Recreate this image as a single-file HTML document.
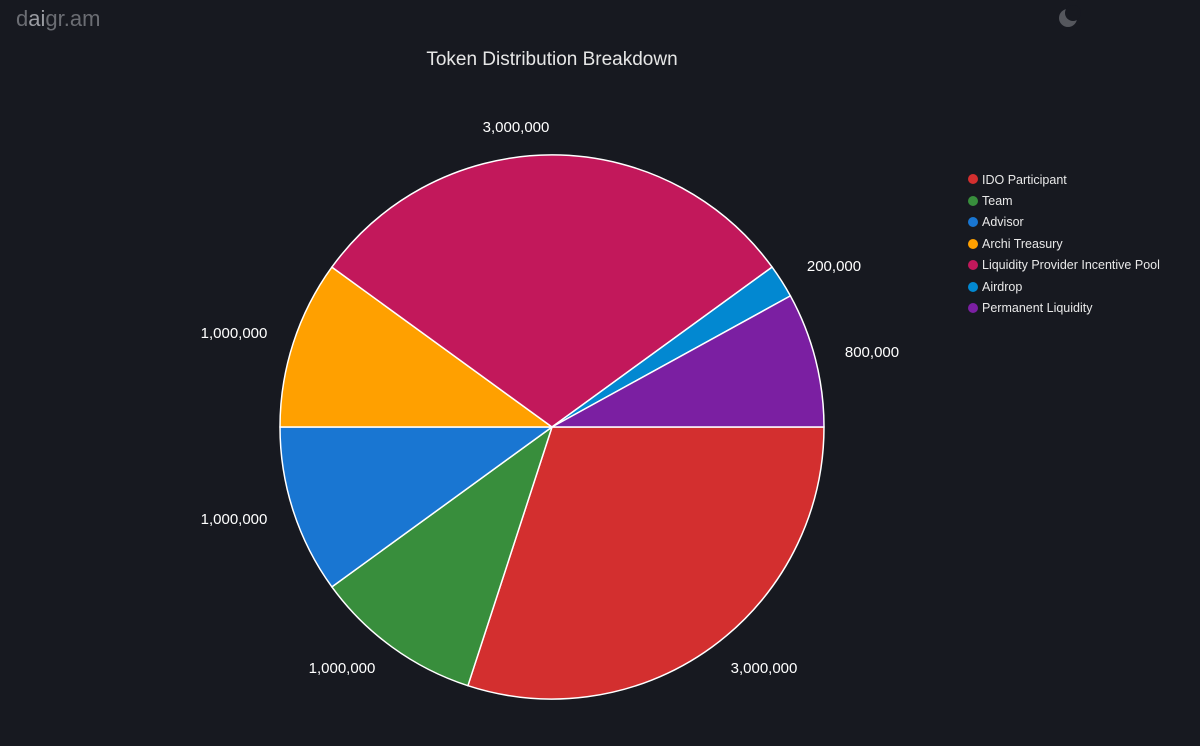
<!DOCTYPE html>
<html><head><meta charset="utf-8"><style>
html,body{margin:0;padding:0;background:#171920;width:1200px;height:746px;overflow:hidden;font-family:"Liberation Sans",sans-serif}
</style></head><body>
<svg width="1200" height="746" xmlns="http://www.w3.org/2000/svg">
<rect width="1200" height="746" fill="#171920"/>
<text x="16" y="26" font-size="22" fill="#6b6d73" font-family="Liberation Sans,sans-serif">d<tspan fill="#9a9ca2">ai</tspan>gr.am</text>
<circle cx="1068" cy="18" r="9" fill="#55575d"/>
<circle cx="1073" cy="13" r="8" fill="#171920"/>
<text x="552" y="65" text-anchor="middle" font-size="19" fill="#e6e6e6">Token Distribution Breakdown</text>
<g stroke="#ffffff" stroke-width="1.5" stroke-linejoin="round">
<path d="M552,427 L824,427 A272,272 0 0,1 467.9,685.7 Z" fill="#d32f2f"/>
<path d="M552,427 L467.9,685.7 A272,272 0 0,1 331.9,586.9 Z" fill="#388e3c"/>
<path d="M552,427 L331.9,586.9 A272,272 0 0,1 280,427 Z" fill="#1976d2"/>
<path d="M552,427 L280,427 A272,272 0 0,1 331.9,267.1 Z" fill="#ffa000"/>
<path d="M552,427 L331.9,267.1 A272,272 0 0,1 772.1,267.1 Z" fill="#c2185b"/>
<path d="M552,427 L772.1,267.1 A272,272 0 0,1 790.4,295.9 Z" fill="#0288d1"/>
<path d="M552,427 L790.4,295.9 A272,272 0 0,1 824,427 Z" fill="#7b1fa2"/>
</g>
<g font-size="15" fill="#ffffff" text-anchor="middle">
<text x="516" y="132">3,000,000</text>
<text x="834" y="271">200,000</text>
<text x="872" y="357">800,000</text>
<text x="234" y="338">1,000,000</text>
<text x="234" y="524">1,000,000</text>
<text x="342" y="673">1,000,000</text>
<text x="764" y="673">3,000,000</text>
</g>
<g font-size="12.5" fill="#e8e8e8">
<circle cx="973" cy="179" r="5" fill="#d32f2f"/><text x="982" y="184">IDO Participant</text>
<circle cx="973" cy="201" r="5" fill="#388e3c"/><text x="982" y="205">Team</text>
<circle cx="973" cy="222" r="5" fill="#1976d2"/><text x="982" y="226">Advisor</text>
<circle cx="973" cy="244" r="5" fill="#ffa000"/><text x="982" y="248">Archi Treasury</text>
<circle cx="973" cy="265" r="5" fill="#c2185b"/><text x="982" y="269">Liquidity Provider Incentive Pool</text>
<circle cx="973" cy="287" r="5" fill="#0288d1"/><text x="982" y="291">Airdrop</text>
<circle cx="973" cy="308" r="5" fill="#7b1fa2"/><text x="982" y="312">Permanent Liquidity</text>
</g>
</svg>
</body></html>
